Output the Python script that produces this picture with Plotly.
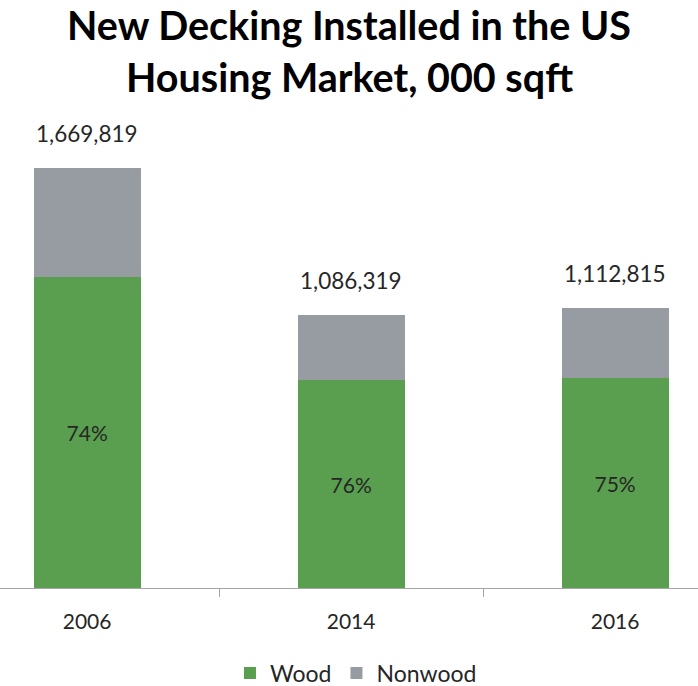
import plotly.graph_objects as go

years = ["2006", "2014", "2016"]
wood = [1235666, 825602, 834611]
nonwood = [434153, 260717, 278204]
title_lines = ["New Decking Installed in the US", "Housing Market, 000 sqft"]

totals = [w + n for w, n in zip(wood, nonwood)]
pct_text = [f"{round(w / t * 100)}%" for w, t in zip(wood, totals)]
total_text = [f"{t:,}" for t in totals]

FONT = "Lato"
GREEN = "#5A9F4F"
GRAY = "#979BA2"
TXT = "#262626"

fig = go.Figure()
fig.add_trace(go.Bar(
    x=years, y=wood, name="Wood", marker=dict(color=GREEN, line=dict(width=0)),
    text=pct_text, textposition="inside", insidetextanchor="middle",
    textfont=dict(family=FONT, size=21, color=TXT), width=0.405,
    hoverinfo="skip",
))
fig.add_trace(go.Bar(
    x=years, y=nonwood, name="Nonwood", marker=dict(color=GRAY, line=dict(width=0)),
    width=0.405, hoverinfo="skip",
))

for i, (t, txt) in enumerate(zip(totals, total_text)):
    fig.add_annotation(x=i, y=t, xref="x", yref="y", text=txt, showarrow=False,
                       yanchor="bottom", yshift=19,
                       font=dict(family=FONT, size=22.5, color=TXT))

fig.add_annotation(x=0.5, y=588 / 468, xref="paper", yref="paper",
                   text=f"<b>{title_lines[0]}</b>", showarrow=False,
                   xanchor="center", yanchor="top", borderpad=0,
                   font=dict(family=FONT, size=39.5, color="black"))
fig.add_annotation(x=0.5, y=1.092, xref="paper", yref="paper",
                   text=f"<b>{title_lines[1]}</b>", showarrow=False,
                   xanchor="center", yanchor="middle",
                   font=dict(family=FONT, size=39.5, color="black"))

ymax = max(totals) * 468 / 420

fig.update_layout(
    width=698, height=686,
    barmode="stack",
    paper_bgcolor="white", plot_bgcolor="white",
    margin=dict(l=0, r=0, t=120, b=98, autoexpand=False),
    xaxis=dict(type="category", range=[-0.33, 2.314], showline=True,
               linecolor="#A6A6A6", linewidth=1, ticks="outside", tickson="boundaries",
               ticklen=8, tickcolor="#A6A6A6", showgrid=False, ticklabelstandoff=15,
               tickfont=dict(family=FONT, size=21, color=TXT)),
    yaxis=dict(range=[0, ymax], visible=False, showgrid=False),
    legend=dict(orientation="h", x=0.51, xanchor="center",
                yref="container", y=1 - 673 / 686, yanchor="middle",
                traceorder="normal", font=dict(family=FONT, size=23, color=TXT)),
    showlegend=True,
)

fig.write_html("out.html", config={"displayModeBar": False},
               post_script="document.body.style.margin='0';document.body.style.overflow='hidden';")
